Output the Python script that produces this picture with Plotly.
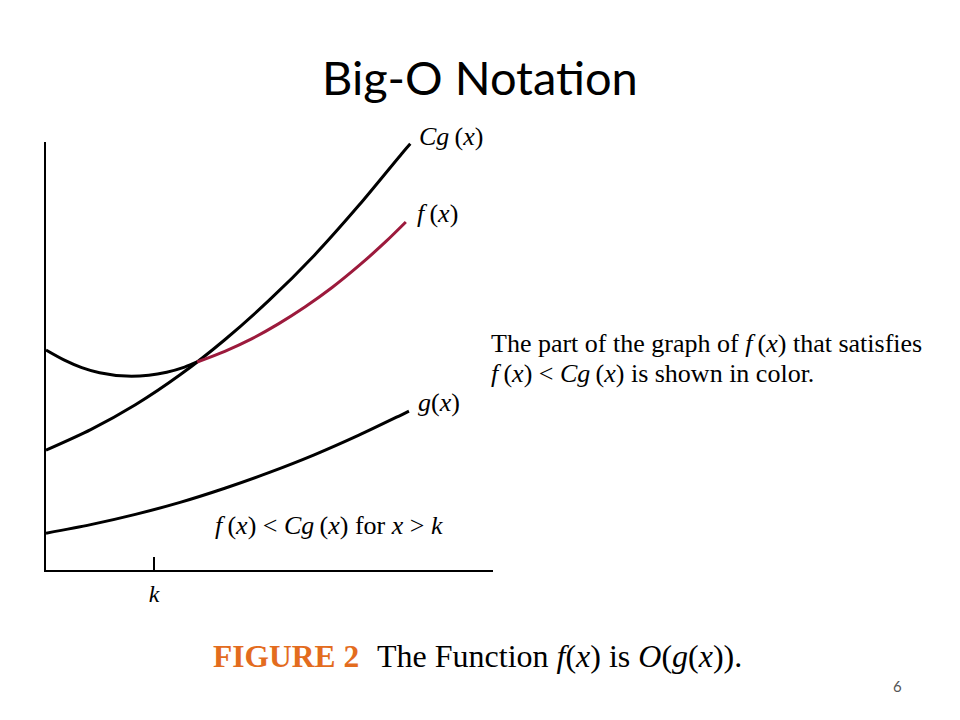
import plotly.graph_objects as go

# ---- data (x: 0..10 along the horizontal axis, y: 0..10 up the vertical axis)
cg_x = [0, 1, 2, 3, 4, 5, 6, 7, 8, 8.15]
cg_y = [2.80, 3.28, 3.86, 4.56, 5.38, 6.31, 7.35, 8.52, 9.78, 9.96]

f_black_x = [0, 0.4, 0.8, 1.2, 1.8, 2.3, 2.7, 3.1, 3.38]
f_black_y = [5.14, 4.91, 4.73, 4.61, 4.53, 4.55, 4.62, 4.74, 4.86]

f_red_x = [3.38, 4.0, 4.6, 5.2, 5.8, 6.4, 7.0, 7.6, 8.05]
f_red_y = [4.86, 5.11, 5.40, 5.75, 6.15, 6.60, 7.11, 7.67, 8.13]

g_x = [0, 1, 2, 3, 4, 5, 6, 7, 8, 8.12]
g_y = [0.86, 1.06, 1.30, 1.58, 1.91, 2.28, 2.69, 3.15, 3.65, 3.71]

k_tick = [2.42]
k_text = ["<i>k</i>"]

# ---- layout helpers (reference pixel -> paper). The page shows the figure offset by 8px.
OFF = 8
L, R, T, B = 46, 493, 142, 570
def px(x):
    return (x - L) / (R - L)
def py(y):
    return (B - y) / (B - T)

SERIF = "Liberation Serif, Times New Roman, serif"
RED = "#9c1a3c"
ORANGE = "#e36c1e"
TS = "\u2009"  # thin space

fig = go.Figure()
line_style = dict(shape="spline", smoothing=0.8, width=3)
fig.add_trace(go.Scatter(x=cg_x, y=cg_y, mode="lines", line=dict(color="black", **line_style), hoverinfo="skip"))
fig.add_trace(go.Scatter(x=f_black_x, y=f_black_y, mode="lines", line=dict(color="black", **line_style), hoverinfo="skip"))
fig.add_trace(go.Scatter(x=f_red_x, y=f_red_y, mode="lines", line=dict(color=RED, **line_style), hoverinfo="skip"))
fig.add_trace(go.Scatter(x=g_x, y=g_y, mode="lines", line=dict(color="black", **line_style), hoverinfo="skip"))

ann = []
def text(x, y, s, size, color="black", family=SERIF, xanchor="left", yanchor="middle"):
    ann.append(dict(x=px(x), y=py(y), xref="paper", yref="paper", text=s, showarrow=False,
                    font=dict(family=family, size=size, color=color),
                    xanchor=xanchor, yanchor=yanchor, align="left"))

fx = "<i>f</i>" + TS + "(<i>x</i>)"
cgx = "<i>Cg</i>" + TS + "(<i>x</i>)"
gx = "<i>g</i>(<i>x</i>)"

text(480, 77, "Big-O Notation", 47, family="Lato, Open Sans, sans-serif", xanchor="center")
text(417, 136, cgx, 26)
text(415, 213, fx, 26)
text(416, 402, gx, 26)
text(489, 343, "The part of the graph of " + fx + " that satisfies", 26)
text(489, 373, fx + " &lt; " + cgx + " is shown in color.", 26)
text(213, 525, fx + " &lt; " + cgx + " for <i>x</i> &gt; <i>k</i>", 26)
text(211, 656, "<b>FIGURE 2</b>", 31.5, color=ORANGE)
text(375, 656, "The Function <i>f</i>(<i>x</i>) is <i>O</i>(<i>g</i>(<i>x</i>)).", 32)
text(897, 686, "6", 15, color="#555555", family="Lato, Open Sans, sans-serif", xanchor="center")

fig.update_layout(
    width=960, height=720,
    margin=dict(l=L - OFF, r=960 - R + OFF, t=T - OFF, b=720 - B + OFF),
    paper_bgcolor="white", plot_bgcolor="white",
    showlegend=False,
    annotations=ann,
    xaxis=dict(range=[0, 10], showgrid=False, zeroline=False, showline=True, linecolor="black", linewidth=2,
               ticks="inside", ticklen=13, tickwidth=2, tickcolor="black",
               tickvals=k_tick, ticktext=k_text, ticklabelstandoff=1,
               tickfont=dict(family=SERIF, size=24, color="black"), fixedrange=True),
    yaxis=dict(range=[0, 10], showgrid=False, zeroline=False, showline=True, linecolor="black", linewidth=2,
               showticklabels=False, ticks="", fixedrange=True),
)

fig.write_html("out.html")
